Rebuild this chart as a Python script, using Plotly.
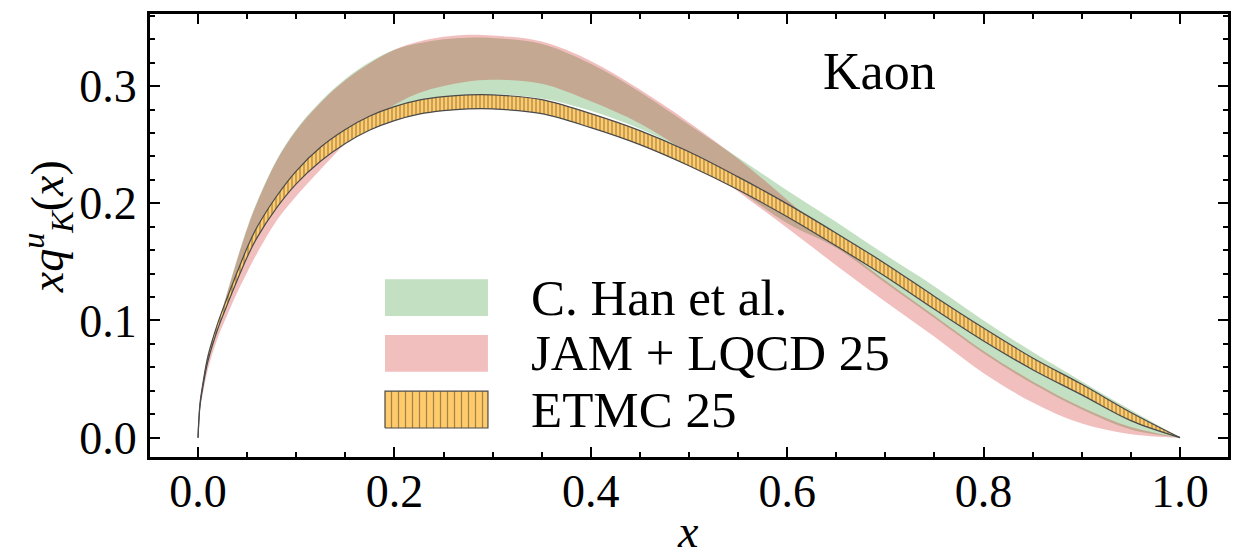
import plotly.graph_objects as go

# ---- data: momentum fraction grid and band edges of x*q_K^u(x) ----
x_grid = [0, 0.002, 0.005, 0.01, 0.02, 0.03, 0.04, 0.05, 0.06, 0.08, 0.1, 0.125, 0.15, 0.175, 0.2,
          0.225, 0.25, 0.275, 0.3, 0.35, 0.4, 0.45, 0.5, 0.55, 0.6, 0.65, 0.7, 0.75, 0.8, 0.85, 0.9, 0.95, 1.0]

# C. Han et al.
han_lo = [0, 0.028, 0.045, 0.067, 0.095, 0.117, 0.138, 0.158, 0.175, 0.201, 0.222, 0.242, 0.257, 0.2685, 0.279,
          0.286, 0.2905, 0.2925, 0.293, 0.2895, 0.279, 0.2635, 0.243, 0.212, 0.183, 0.162, 0.132, 0.102, 0.072,
          0.046, 0.024, 0.007, 0]
han_hi = [0, 0.030, 0.048, 0.072, 0.097, 0.125, 0.153, 0.179, 0.201, 0.237, 0.263, 0.287, 0.306, 0.3205, 0.331,
          0.3365, 0.340, 0.3412, 0.341, 0.336, 0.319, 0.295, 0.267, 0.239, 0.211, 0.184, 0.156, 0.129, 0.100,
          0.073, 0.048, 0.0235, 0]

# JAM + LQCD 25
jam_lo = [0, 0.024, 0.038, 0.058, 0.085, 0.105, 0.124, 0.141, 0.157, 0.185, 0.206, 0.229, 0.251, 0.270, 0.284,
          0.294, 0.300, 0.304, 0.3055, 0.302, 0.287, 0.268, 0.242, 0.21, 0.179, 0.147, 0.116, 0.086, 0.055,
          0.030, 0.012, 0.003, 0]
jam_hi = [0, 0.030, 0.047, 0.071, 0.096, 0.124, 0.152, 0.178, 0.200, 0.236, 0.262, 0.286, 0.305, 0.3195, 0.331,
          0.338, 0.342, 0.3438, 0.3432, 0.338, 0.3215, 0.297, 0.269, 0.238, 0.203, 0.166, 0.134, 0.104, 0.074,
          0.048, 0.026, 0.009, 0]

# ETMC 25
etmc_lo = [0, 0.027, 0.0435, 0.065, 0.0925, 0.114, 0.1345, 0.154, 0.1705, 0.196, 0.2165, 0.236, 0.251, 0.2625,
           0.2705, 0.276, 0.279, 0.2805, 0.2805, 0.2765, 0.2645, 0.250, 0.232, 0.2115, 0.1885, 0.1635, 0.1375,
           0.1095, 0.0825, 0.058, 0.0365, 0.0145, 0]
etmc_hi = [0, 0.029, 0.0465, 0.069, 0.0975, 0.120, 0.1415, 0.162, 0.1795, 0.206, 0.2275, 0.248, 0.263, 0.2745,
           0.2825, 0.288, 0.291, 0.2925, 0.2925, 0.2885, 0.2765, 0.262, 0.244, 0.2225, 0.1995, 0.1745, 0.1485,
           0.1205, 0.0935, 0.068, 0.0455, 0.0215, 0]

series_names = ["C. Han et al.", "JAM + LQCD 25", "ETMC 25"]
x_ticks = [0.0, 0.2, 0.4, 0.6, 0.8, 1.0]
y_ticks = [0.0, 0.1, 0.2, 0.3]

# ---- styles ----
GREEN = "rgba(15,131,15,0.25)"
RED = "rgba(203,0,0,0.25)"
ORANGE = "#FFCB6B"
HATCH = "#4a3c28"
EDGE = "#4a4a4a"
FONT = "Liberation Serif"

fig = go.Figure()


def band(lo, hi, fillcolor, name, pattern=None, edge=None):
    line_kw = dict(width=1.2 if edge else 0, color=edge or fillcolor, shape="spline", smoothing=1.0)
    fig.add_trace(go.Scatter(x=x_grid, y=lo, mode="lines", line=line_kw,
                             showlegend=False, hoverinfo="skip", name=name))
    kw = dict(fill="tonexty", fillcolor=fillcolor)
    if pattern:
        kw["fillpattern"] = pattern
    fig.add_trace(go.Scatter(x=x_grid, y=hi, mode="lines", line=line_kw,
                             showlegend=False, name=name, **kw))


band(han_lo, han_hi, GREEN, series_names[0])
band(jam_lo, jam_hi, RED, series_names[1])
band(etmc_lo, etmc_hi, ORANGE, series_names[2],
     pattern=dict(shape="|", bgcolor=ORANGE, fgcolor=HATCH, size=4, solidity=0.3),
     edge=EDGE)

# ---- legend drawn on an overlay axis spanning the plot area ----
leg_x0, leg_x1 = 0.218, 0.3135
leg_rows = [0.36, 0.234, 0.107]
leg_h = 0.083
leg_styles = [
    dict(fillcolor=GREEN, line=dict(width=0)),
    dict(fillcolor=RED, line=dict(width=0)),
    dict(fillcolor=ORANGE, line=dict(width=1.2, color=EDGE),
         fillpattern=dict(shape="|", bgcolor=ORANGE, fgcolor=HATCH, size=7, solidity=0.18)),
]
for name, yc, st in zip(series_names, leg_rows, leg_styles):
    fig.add_trace(go.Scatter(
        x=[leg_x0, leg_x1, leg_x1, leg_x0, leg_x0],
        y=[yc - leg_h / 2, yc - leg_h / 2, yc + leg_h / 2, yc + leg_h / 2, yc - leg_h / 2],
        xaxis="x2", yaxis="y2", mode="lines", fill="toself", showlegend=False,
        hoverinfo="skip", name=name, **st))
    fig.add_annotation(x=0.352, y=yc, xref="paper", yref="paper", text=name,
                       showarrow=False, xanchor="left", yanchor="middle",
                       font=dict(family=FONT, size=51, color="black"))

fig.add_annotation(x=0.677, y=0.87, xref="paper", yref="paper", text="Kaon",
                   showarrow=False, xanchor="center", yanchor="middle",
                   font=dict(family=FONT, size=52, color="black"))

fig.add_annotation(x=0.499, y=-0.23, xref="paper", yref="paper", text="<i>x</i>",
                   showarrow=False, xanchor="center", yanchor="bottom",
                   font=dict(family=FONT, size=46, color="black"))

fig.add_annotation(x=-0.095, y=0.52, xref="paper", yref="paper",
                   text="<i>xq</i><sup><i>u</i></sup><sub><i>K</i></sub>(<i>x</i>)",
                   textangle=-90, showarrow=False, xanchor="center", yanchor="middle",
                   font=dict(family=FONT, size=46, color="black"))

axis_common = dict(
    showgrid=False, zeroline=False, showline=True, linecolor="black", linewidth=3,
    mirror="allticks", ticks="inside", ticklen=10, tickwidth=2, tickcolor="black",
    tickfont=dict(family=FONT, size=46, color="black"), tickformat=".1f",
)

fig.update_layout(
    width=1247, height=556,
    margin=dict(l=150, r=19, t=14, b=99),
    paper_bgcolor="white", plot_bgcolor="white",
    showlegend=False,
    xaxis=dict(range=[-0.0489, 1.0489], tickvals=x_ticks,
               minor=dict(dtick=0.05, ticks="inside", ticklen=5, tickwidth=1.5, tickcolor="black"),
               ticklabelstandoff=-8, **axis_common),
    yaxis=dict(range=[-0.0165, 0.3615], tickvals=y_ticks,
               minor=dict(dtick=0.02, ticks="inside", ticklen=5, tickwidth=1.5, tickcolor="black"),
               ticklabelstandoff=1, **axis_common),
    xaxis2=dict(domain=[0, 1], range=[0, 1], overlaying="x", visible=False, anchor="y2"),
    yaxis2=dict(domain=[0, 1], range=[0, 1], overlaying="y", visible=False, anchor="x2"),
)

fig.write_html("out.html")
